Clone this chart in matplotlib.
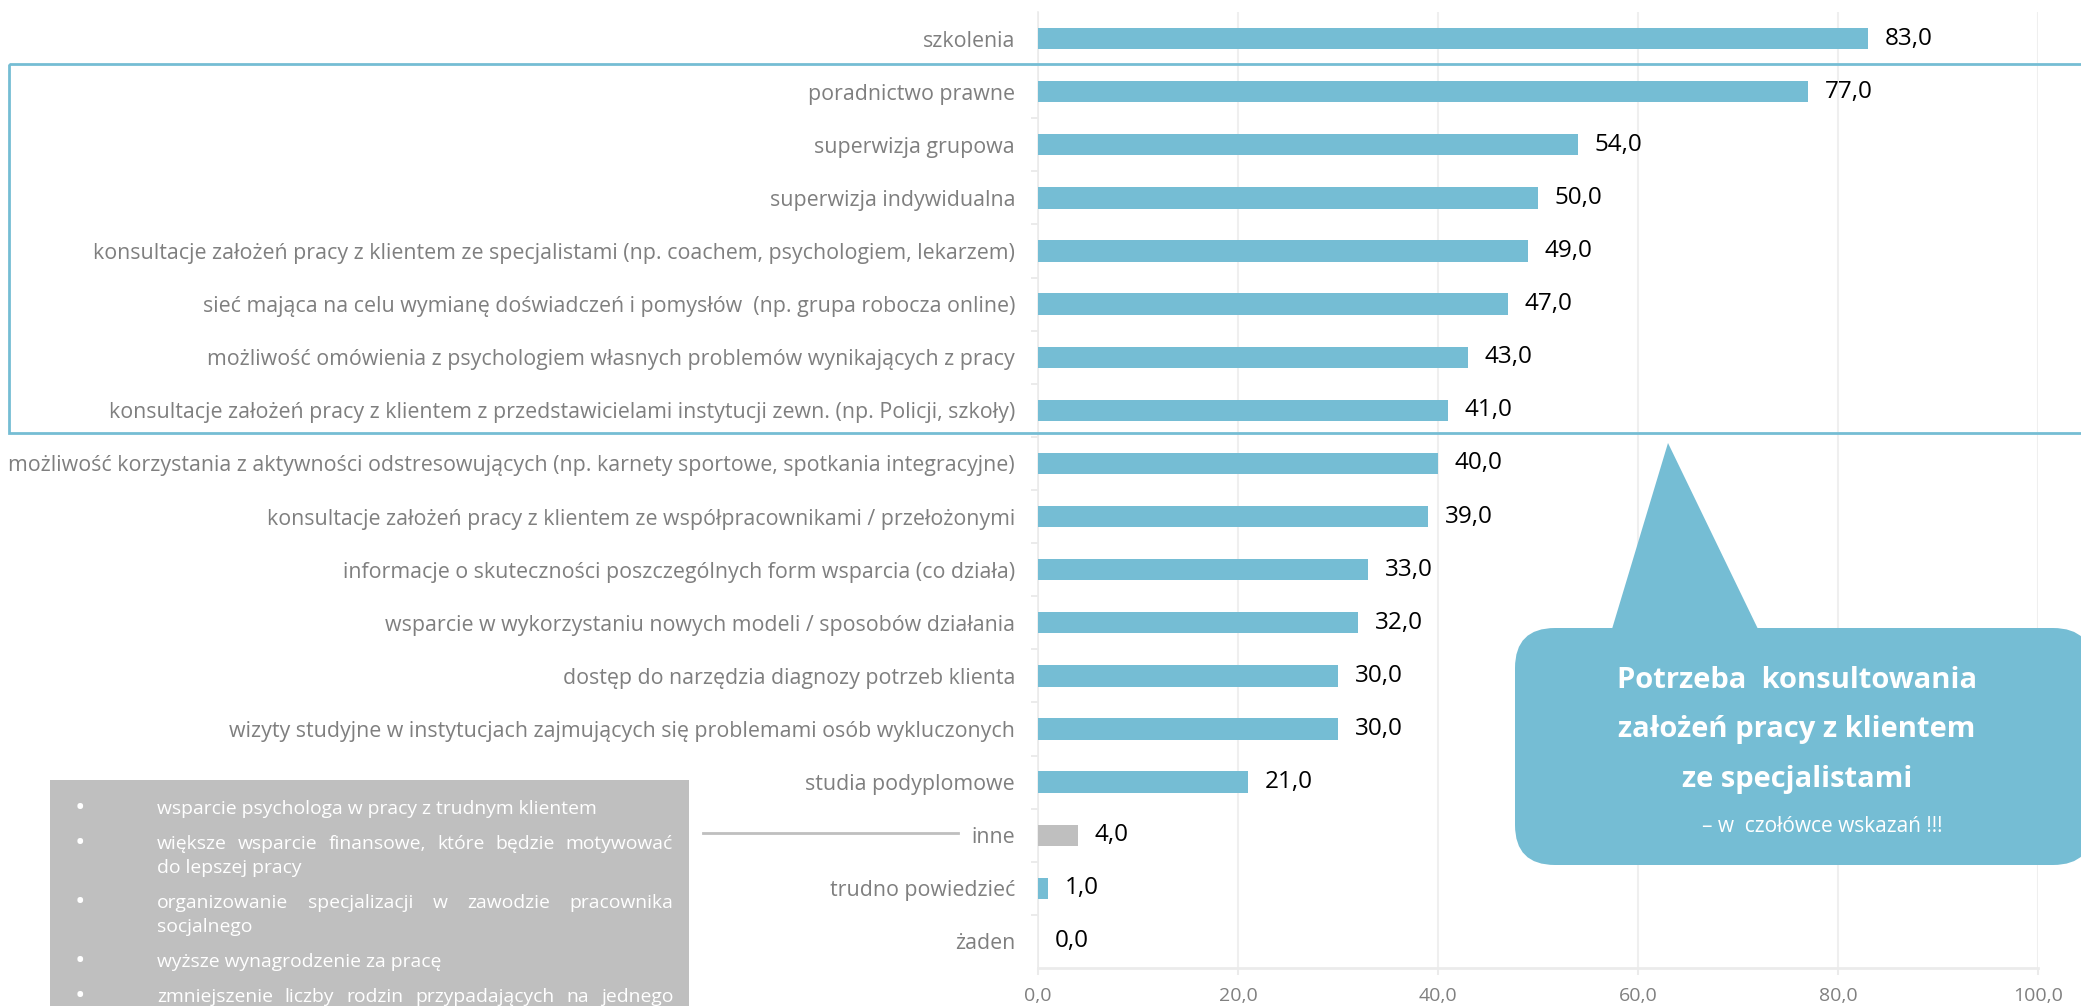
import matplotlib
matplotlib.use("Agg")
import matplotlib.pyplot as plt
from matplotlib.patches import Rectangle, FancyBboxPatch, Polygon

plt.rcParams['font.family'] = ['Open Sans', 'DejaVu Sans']

# ------------------------------------------------------------------ dane
kategorie = [
    "szkolenia",
    "poradnictwo prawne",
    "superwizja grupowa",
    "superwizja indywidualna",
    "konsultacje założeń pracy z klientem ze specjalistami (np. coachem, psychologiem, lekarzem)",
    "sieć mająca na celu wymianę doświadczeń i pomysłów  (np. grupa robocza online)",
    "możliwość omówienia z psychologiem własnych problemów wynikających z pracy",
    "konsultacje założeń pracy z klientem z przedstawicielami instytucji zewn. (np. Policji, szkoły)",
    "możliwość korzystania z aktywności odstresowujących (np. karnety sportowe, spotkania integracyjne)",
    "konsultacje założeń pracy z klientem ze współpracownikami / przełożonymi",
    "informacje o skuteczności poszczególnych form wsparcia (co działa)",
    "wsparcie w wykorzystaniu nowych modeli / sposobów działania",
    "dostęp do narzędzia diagnozy potrzeb klienta",
    "wizyty studyjne w instytucjach zajmujących się problemami osób wykluczonych",
    "studia podyplomowe",
    "inne",
    "trudno powiedzieć",
    "żaden",
]
wartosci = [83.0, 77.0, 54.0, 50.0, 49.0, 47.0, 43.0, 41.0, 40.0, 39.0,
            33.0, 32.0, 30.0, 30.0, 21.0, 4.0, 1.0, 0.0]
x_ticki = [0, 20, 40, 60, 80, 100]

# odpowiedzi "inne" (tekst w szarym polu), (linia, wyjustowana?)
inne_odp = [
    [("wsparcie psychologa w pracy z trudnym klientem", False)],
    [("większe wsparcie finansowe, które będzie motywować", True),
     ("do lepszej pracy", False)],
    [("organizowanie specjalizacji w zawodzie pracownika", True),
     ("socjalnego", False)],
    [("wyższe wynagrodzenie za pracę", False)],
    [("zmniejszenie liczby rodzin przypadających na jednego", True)],
]

dymek = ["Potrzeba  konsultowania", "założeń pracy z klientem", "ze specjalistami"]
dymek_dopisek = "– w  czołówce wskazań !!!"

NIEBIESKI = '#75BDD4'
SZARY = '#BFBFBF'
kolory = [SZARY if k == "inne" else NIEBIESKI for k in kategorie]

# ------------------------------------------------------------------ wykres
W, H = 2081, 1006
fig = plt.figure(figsize=(W / 100, H / 100), dpi=100)
ax = fig.add_axes([1038 / W, 1 - 968 / H, 1000 / W, 956 / H])

y = list(range(len(kategorie)))
ax.barh(y, wartosci, height=0.4, color=kolory, zorder=3)
ax.set_ylim(len(kategorie) - 0.5, -0.5)
ax.set_xlim(0, 100)

ax.set_yticks(y)
ax.set_yticklabels(kategorie, fontsize=15.4, color='#7F7F7F')
ax.set_yticks([i + 0.5 for i in y[:-1]], minor=True)
ax.tick_params(axis='y', which='major', length=0, pad=16.5)
ax.tick_params(axis='y', which='minor', length=5, width=1.2, color='#E8E8E8')

ax.set_xticks(x_ticki)
ax.set_xticklabels([f"{t:.1f}".replace('.', ',') for t in x_ticki],
                   fontsize=14, color='#808080')
ax.tick_params(axis='x', length=5, width=1.5, color='#EBEBEB', pad=9)
ax.grid(axis='x', color='#EFEFEF', linewidth=1.5, zorder=0)
ax.set_axisbelow(True)

for s in ['top', 'right']:
    ax.spines[s].set_visible(False)
ax.spines['left'].set_color('#EBEBEB')
ax.spines['bottom'].set_color('#EBEBEB')
ax.spines['left'].set_linewidth(1.2)
ax.spines['bottom'].set_linewidth(2)

for i, v in enumerate(wartosci):
    ax.annotate(f"{v:.1f}".replace('.', ','), (v, i), xytext=(12.2, 0),
                textcoords='offset points', va='center', ha='left',
                fontsize=17.5, color='black')

# ------------------------------------------------------------------ dodatki (w pikselach)
ov = fig.add_axes([0, 0, 1, 1], zorder=5)
ov.set_xlim(0, W)
ov.set_ylim(H, 0)
ov.axis('off')
ov.patch.set_alpha(0)

# ramka wokol wyroznionych pozycji
ov.add_patch(Rectangle((9, 63.5), 2100, 369.5, fill=False,
                       edgecolor=NIEBIESKI, linewidth=2))

# dymek
ov.add_patch(FancyBboxPatch((1515, 628), 578, 237,
                            boxstyle="round,pad=0,rounding_size=40",
                            facecolor=NIEBIESKI, edgecolor='none'))
ov.add_patch(Polygon([(1612, 629), (1668, 443), (1758, 629)],
                     closed=True, facecolor=NIEBIESKI, edgecolor='none'))
for j, lin in enumerate(dymek):
    ov.text(1797, 680 + j * 50, lin, ha='center', va='center',
            fontsize=21, fontweight='bold', color='white')
ov.text(1822, 826, dymek_dopisek, ha='center', va='center',
        fontsize=15, color='white')

# linia do "inne"
ov.plot([703, 958], [833, 833], color=SZARY, linewidth=2)

# szare pole z odpowiedziami "inne"
ov.add_patch(Rectangle((50, 780), 639, 260, facecolor=SZARY, edgecolor='none'))

fig.canvas.draw()
r = fig.canvas.get_renderer()


def szer(s, size):
    t = ov.text(0, 0, s, fontsize=size)
    w = t.get_window_extent(r).width
    t.remove()
    return w


ROZM = 13.9
x_txt, x_prawy = 157, 673
ypos = 809
for akapit in inne_odp:
    ov.text(80, ypos, "•", ha='center', va='center', fontsize=20, color='white')
    for k, (lin, just) in enumerate(akapit):
        if just:
            slowa = lin.split()
            ws = [szer(s, ROZM) for s in slowa]
            gap = (x_prawy - x_txt - sum(ws)) / (len(slowa) - 1)
            xx = x_txt
            for s, w in zip(slowa, ws):
                ov.text(xx, ypos, s, ha='left', va='center', fontsize=ROZM, color='white')
                xx += w + gap
        else:
            ov.text(x_txt, ypos, lin, ha='left', va='center', fontsize=ROZM, color='white')
        ypos += 24 if k < len(akapit) - 1 else 35

fig.savefig("out.png", dpi=100)
